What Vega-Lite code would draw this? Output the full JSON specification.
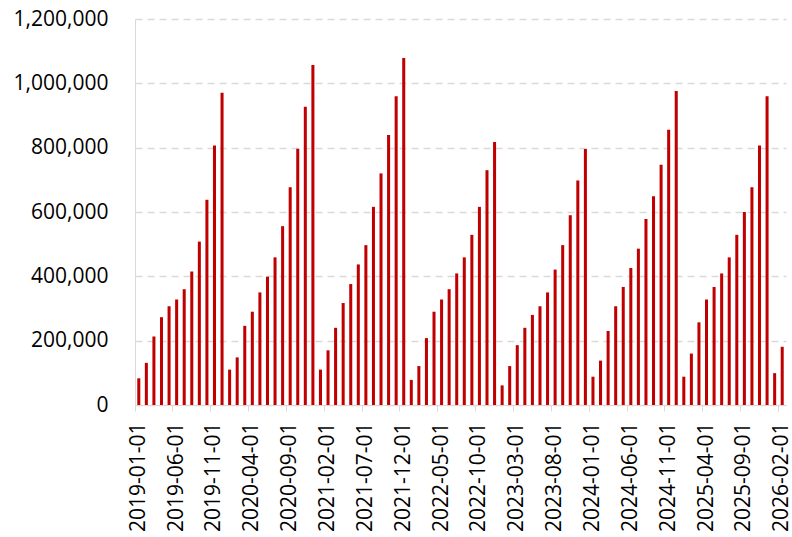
{
  "$schema": "https://vega.github.io/schema/vega-lite/v6.json",
  "autosize": "none",
  "width": 651,
  "height": 386,
  "padding": {"left": 135, "top": 19, "right": 6, "bottom": 132},
  "background": "white",
  "config": {"view": {"stroke": null}},
  "data": {"values": [
    {"date":"2019-01-01","value":83000},{"date":"2019-02-01","value":131000},{"date":"2019-03-01","value":213000},{"date":"2019-04-01","value":273000},{"date":"2019-05-01","value":307000},{"date":"2019-06-01","value":328000},{"date":"2019-07-01","value":360000},{"date":"2019-08-01","value":415000},{"date":"2019-09-01","value":508000},{"date":"2019-10-01","value":638000},{"date":"2019-11-01","value":807000},{"date":"2019-12-01","value":971000},
    {"date":"2020-01-01","value":110000},{"date":"2020-02-01","value":148000},{"date":"2020-03-01","value":246000},{"date":"2020-04-01","value":290000},{"date":"2020-05-01","value":350000},{"date":"2020-06-01","value":399000},{"date":"2020-07-01","value":459000},{"date":"2020-08-01","value":556000},{"date":"2020-09-01","value":677000},{"date":"2020-10-01","value":797000},{"date":"2020-11-01","value":927000},{"date":"2020-12-01","value":1057000},
    {"date":"2021-01-01","value":110000},{"date":"2021-02-01","value":170000},{"date":"2021-03-01","value":240000},{"date":"2021-04-01","value":317000},{"date":"2021-05-01","value":376000},{"date":"2021-06-01","value":437000},{"date":"2021-07-01","value":497000},{"date":"2021-08-01","value":616000},{"date":"2021-09-01","value":720000},{"date":"2021-10-01","value":839000},{"date":"2021-11-01","value":960000},{"date":"2021-12-01","value":1079000},
    {"date":"2022-01-01","value":78000},{"date":"2022-02-01","value":121000},{"date":"2022-03-01","value":208000},{"date":"2022-04-01","value":290000},{"date":"2022-05-01","value":328000},{"date":"2022-06-01","value":360000},{"date":"2022-07-01","value":409000},{"date":"2022-08-01","value":459000},{"date":"2022-09-01","value":529000},{"date":"2022-10-01","value":616000},{"date":"2022-11-01","value":730000},{"date":"2022-12-01","value":818000},
    {"date":"2023-01-01","value":61000},{"date":"2023-02-01","value":121000},{"date":"2023-03-01","value":186000},{"date":"2023-04-01","value":240000},{"date":"2023-05-01","value":280000},{"date":"2023-06-01","value":307000},{"date":"2023-07-01","value":350000},{"date":"2023-08-01","value":421000},{"date":"2023-09-01","value":497000},{"date":"2023-10-01","value":590000},{"date":"2023-11-01","value":698000},{"date":"2023-12-01","value":796000},
    {"date":"2024-01-01","value":88000},{"date":"2024-02-01","value":138000},{"date":"2024-03-01","value":230000},{"date":"2024-04-01","value":307000},{"date":"2024-05-01","value":367000},{"date":"2024-06-01","value":426000},{"date":"2024-07-01","value":486000},{"date":"2024-08-01","value":578000},{"date":"2024-09-01","value":649000},{"date":"2024-10-01","value":747000},{"date":"2024-11-01","value":856000},{"date":"2024-12-01","value":976000},
    {"date":"2025-01-01","value":88000},{"date":"2025-02-01","value":160000},{"date":"2025-03-01","value":257000},{"date":"2025-04-01","value":328000},{"date":"2025-05-01","value":367000},{"date":"2025-06-01","value":409000},{"date":"2025-07-01","value":459000},{"date":"2025-08-01","value":529000},{"date":"2025-09-01","value":600000},{"date":"2025-10-01","value":677000},{"date":"2025-11-01","value":807000},{"date":"2025-12-01","value":960000},
    {"date":"2026-01-01","value":99000},{"date":"2026-02-01","value":181000}
  ]},
  "mark": {"type": "bar", "color": "#C00000", "width": {"band": 0.4}},
  "encoding": {
    "x": {
      "field": "date", "type": "ordinal", "sort": null,
      "scale": {"paddingInner": 0, "paddingOuter": 0},
      "axis": {
        "title": null,
        "values": ["2019-01-01","2019-06-01","2019-11-01","2020-04-01","2020-09-01","2021-02-01","2021-07-01","2021-12-01","2022-05-01","2022-10-01","2023-03-01","2023-08-01","2024-01-01","2024-06-01","2024-11-01","2025-04-01","2025-09-01","2026-02-01"],
        "bandPosition": 0,
        "labelAngle": -90,
        "labelAlign": "right",
        "labelBaseline": "middle",
        "labelFont": "Open Sans",
        "labelFontSize": 21,
        "labelColor": "#000000",
        "labelPadding": 11,
        "domainColor": "#D9D9D9",
        "tickColor": "#D9D9D9",
        "tickSize": 6,
        "grid": false
      }
    },
    "y": {
      "field": "value", "type": "quantitative",
      "scale": {"domain": [0, 1200000], "nice": false},
      "axis": {
        "title": null,
        "values": [0, 200000, 400000, 600000, 800000, 1000000, 1200000],
        "format": ",.0f",
        "labelFont": "Open Sans",
        "labelFontSize": 21,
        "labelColor": "#000000",
        "labelPadding": 27,
        "ticks": false,
        "domainColor": "#D9D9D9",
        "grid": true,
        "gridColor": "#D9D9D9",
        "gridDash": [7, 5],
        "gridWidth": 1.3
      }
    }
  }
}
